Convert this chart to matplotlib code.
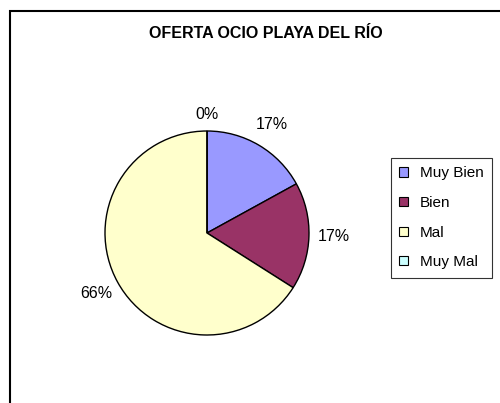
import matplotlib
matplotlib.use("Agg")
import matplotlib.pyplot as plt
from matplotlib.patches import Rectangle

plt.rcParams['font.family'] = ['Liberation Sans', 'DejaVu Sans']

categories = ["Muy Bien", "Bien", "Mal", "Muy Mal"]
percentages = [17, 17, 66, 0]
colors = ["#9999FF", "#993366", "#FFFFCC", "#CCFFFF"]

W, H = 500, 403
fig = plt.figure(figsize=(W / 100, H / 100), dpi=100)

# chart-area border (runs off the right and bottom edges)
top = 1 - 10.5 / H
fig.patches.append(Rectangle((9.5 / W, -0.2), 1.2, top + 0.2, transform=fig.transFigure,
                             fill=False, edgecolor="black", linewidth=1.5))

fig.text(266 / W, 1 - 34 / H, "OFERTA OCIO PLAYA DEL RÍO", ha="center", va="center",
         fontsize=11.5, fontweight="bold")

# pie: centre (207, 233) px, radius 102 px
cx, cy, r = 207, 233, 102
ax = fig.add_axes([(cx - r) / W, (H - cy - r) / H, 2 * r / W, 2 * r / H])
wedges, texts, autotexts = ax.pie(percentages, colors=colors, startangle=90, counterclock=False,
                                  autopct="%.0f%%", pctdistance=1.24,
                                  wedgeprops=dict(edgecolor="black", linewidth=1.0),
                                  textprops=dict(fontsize=11.5))
for val, t in zip(percentages, autotexts):
    if val == 0:
        x, y = t.get_position()
        t.set_position((x * 1.16 / 1.24, y * 1.16 / 1.24))
ax.set_xlim(-1, 1)
ax.set_ylim(-1, 1)
ax.set_aspect("equal")
ax.axis("off")

leg = fig.legend(wedges, categories, loc="upper left", bbox_to_anchor=(391 / W, 1 - 158 / H),
                 borderaxespad=0, fontsize=11, frameon=True, fancybox=False, shadow=False,
                 handlelength=0.55, handleheight=0.55, handletextpad=0.8,
                 labelspacing=1.02, borderpad=0.55)
leg.get_frame().set_edgecolor("black")
leg.get_frame().set_linewidth(0.8)
for h in leg.legend_handles:
    h.set_linewidth(0.8)

fig.savefig("out.png", dpi=100)
